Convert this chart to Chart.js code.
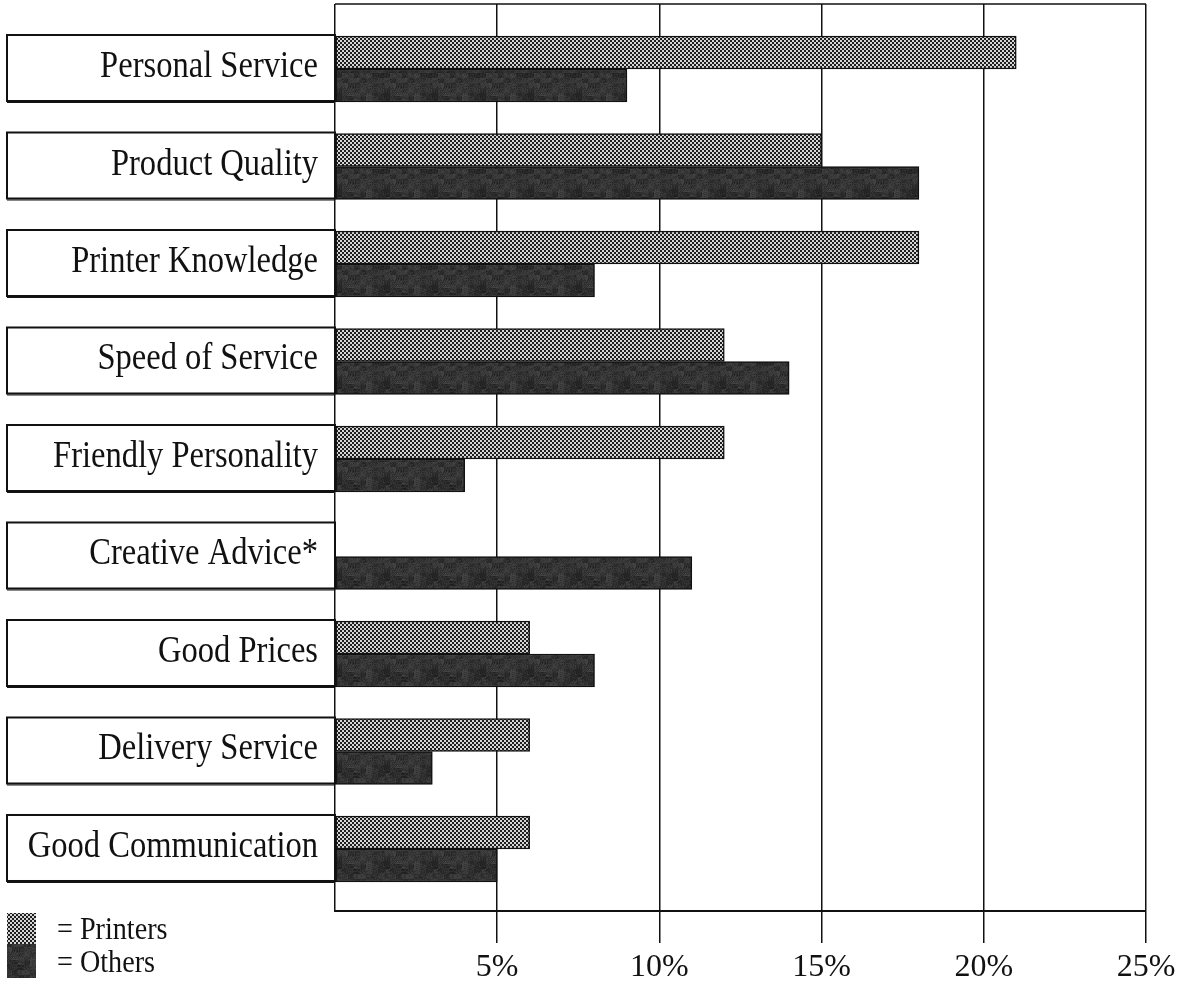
<!DOCTYPE html>
<html>
<head>
<meta charset="utf-8">
<script src="https://cdn.jsdelivr.net/npm/chart.js@4.4.1/dist/chart.umd.min.js"></script>
<style>
  html, body { margin: 0; padding: 0; background: #fff; }
  canvas { display: block; }
</style>
</head>
<body>
<canvas id="chart" width="1185" height="984"></canvas>
<script>
// Reasons customers give for choosing their printer, percent of responses
const categories = [
  'Personal Service', 'Product Quality', 'Printer Knowledge', 'Speed of Service',
  'Friendly Personality', 'Creative Advice*', 'Good Prices', 'Delivery Service',
  'Good Communication'
];
const printers = [21, 15, 18, 12, 12, null, 6, 6, 6];
const others   = [9, 18, 8, 14, 4, 11, 8, 3, 5];
const seriesNames = ['Printers', 'Others'];
const tickValues = [0, 5, 10, 15, 20, 25];
const tickSuffix = '%';

const SERIF = '"Liberation Serif", "Times New Roman", serif';
const SQUEEZE = 0.88; // narrow typesetting of the printed labels

// Fine checkered screen for the first series
function checkerPattern() {
  const c = document.createElement('canvas');
  c.width = 4; c.height = 4;
  const g = c.getContext('2d');
  g.fillStyle = '#1e1e1e';
  g.fillRect(0, 0, 4, 4);
  g.fillStyle = '#d6d6d6';
  g.fillRect(0, 0, 2, 2);
  g.fillRect(2, 2, 2, 2);
  return g.createPattern(c, 'repeat');
}

// Dark mottled screen for the second series
function mottledPattern() {
  const n = 48;
  const c = document.createElement('canvas');
  c.width = n; c.height = n;
  const g = c.getContext('2d');
  const img = g.createImageData(n, n);
  for (let y = 0; y < n; y++) {
    for (let x = 0; x < n; x++) {
      const h = Math.abs(Math.sin(x * 12.9898 + y * 78.233) * 43758.5453) % 1;
      const s = Math.abs(Math.sin(Math.floor(x / 6) * 3.1 + Math.floor(y / 5) * 7.7) * 9173.13) % 1;
      const v = 28 + Math.round(h * 22 + s * 22);
      const i = (y * n + x) * 4;
      img.data[i] = v; img.data[i + 1] = v; img.data[i + 2] = v; img.data[i + 3] = 255;
    }
  }
  g.putImageData(img, 0, 0);
  return g.createPattern(c, 'repeat');
}

const fills = [checkerPattern(), mottledPattern()];

function squeezedText(ctx, text, x, y, font, align) {
  ctx.save();
  ctx.font = font;
  ctx.fillStyle = '#111';
  ctx.textAlign = align;
  ctx.textBaseline = 'alphabetic';
  ctx.translate(x, y);
  ctx.scale(SQUEEZE, 1);
  ctx.fillText(text, 0, 0);
  ctx.restore();
}

// Top frame line, boxed category labels and the swatch legend
const decorations = {
  id: 'decorations',
  afterDraw(chart) {
    const { ctx, chartArea, scales } = chart;
    const yS = scales.y;

    ctx.save();
    ctx.strokeStyle = '#111';
    ctx.lineWidth = 1.5;
    ctx.beginPath();
    ctx.moveTo(chartArea.left, chartArea.top);
    ctx.lineTo(chartArea.right, chartArea.top);
    ctx.stroke();
    ctx.restore();

    const boxLeft = 7;
    const boxRight = chartArea.left;
    categories.forEach((name, i) => {
      const cy = yS.getPixelForValue(i);
      const top = cy - 34, bottom = cy + 32;
      ctx.save();
      ctx.fillStyle = '#fff';
      ctx.fillRect(boxLeft, top, boxRight - boxLeft, bottom - top);
      ctx.strokeStyle = '#111';
      ctx.lineWidth = 2;
      ctx.strokeRect(boxLeft, top, boxRight - boxLeft, bottom - top);
      ctx.lineWidth = 1;
      ctx.beginPath();
      ctx.moveTo(boxLeft, bottom + 1.5);
      ctx.lineTo(boxRight, bottom + 1.5);
      ctx.stroke();
      ctx.restore();
      squeezedText(ctx, name, 318, cy + 8, '37px ' + SERIF, 'right');
    });

    const swX = 7, swW = 29;
    const rows = [{ top: 913, h: 31, base: 939 }, { top: 944, h: 34, base: 972 }];
    chart.data.datasets.forEach((ds, k) => {
      const r = rows[k];
      ctx.save();
      ctx.fillStyle = fills[k];
      ctx.fillRect(swX, r.top, swW, r.h);
      ctx.restore();
      squeezedText(ctx, '= ' + ds.label, 57, r.base, '32px ' + SERIF, 'left');
    });
  }
};

new Chart(document.getElementById('chart'), {
  type: 'bar',
  data: {
    datasets: [
      {
        label: seriesNames[0],
        data: printers.map((v, i) => ({ x: v, y: i })),
        backgroundColor: fills[0],
        borderColor: '#111',
        borderWidth: 1.5,
        borderSkipped: false,
        barThickness: 33
      },
      {
        label: seriesNames[1],
        data: others.map((v, i) => ({ x: v, y: i })),
        backgroundColor: fills[1],
        borderColor: '#111',
        borderWidth: 1.5,
        borderSkipped: false,
        barThickness: 33
      }
    ]
  },
  options: {
    indexAxis: 'y',
    responsive: false,
    devicePixelRatio: 1,
    animation: false,
    layout: { padding: { left: 335, top: 4, right: 39, bottom: -9 } },
    plugins: { legend: { display: false }, tooltip: { enabled: false } },
    scales: {
      x: {
        type: 'linear',
        position: 'bottom',
        min: tickValues[0],
        max: tickValues[tickValues.length - 1],
        afterBuildTicks(axis) { axis.ticks = tickValues.map(v => ({ value: v })); },
        ticks: {
          color: '#111',
          padding: 9,
          font: { family: SERIF, size: 32, lineHeight: 1.0 },
          callback: v => (v === 0 ? '' : v + tickSuffix)
        },
        grid: {
          color: '#111',
          lineWidth: 1.5,
          tickLength: 32,
          tickColor: ctx => (ctx.tick && ctx.tick.value === 0 ? 'rgba(0,0,0,0)' : '#111')
        },
        border: { display: true, color: '#111', width: 2 }
      },
      y: {
        type: 'linear',
        reverse: true,
        offset: false,
        min: -0.6667,
        max: 8.636,
        afterBuildTicks(axis) { axis.ticks = categories.map((_, i) => ({ value: i })); },
        display: false
      }
    }
  },
  plugins: [decorations]
});
</script>
</body>
</html>
